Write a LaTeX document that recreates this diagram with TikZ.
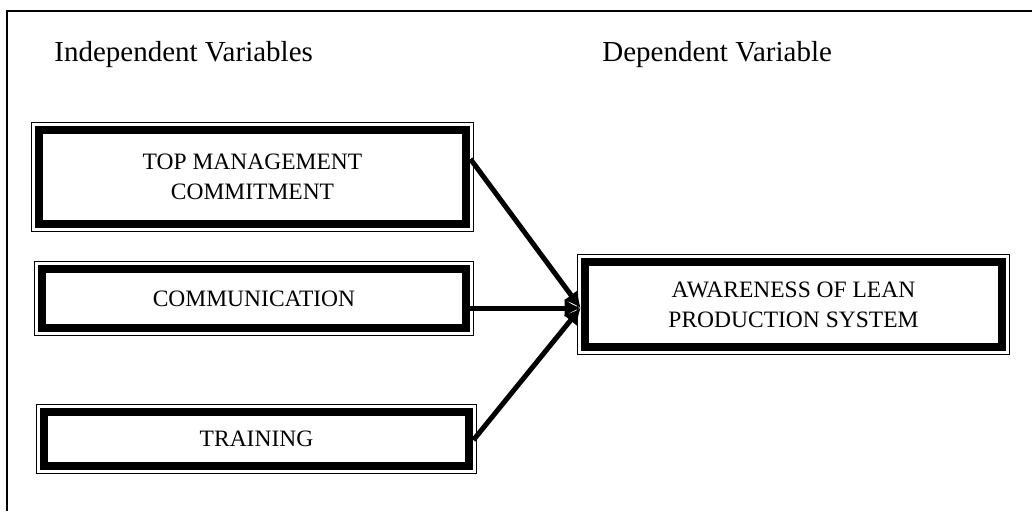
\documentclass[tikz,border=0pt]{standalone}
\usepackage{fontspec}
\setmainfont{Liberation Serif}
\usetikzlibrary{arrows.meta}

\begin{document}
\begin{tikzpicture}[x=0.5pt,y=-0.5pt,
  varbox/.style={fill=white, draw, line width=4.2pt, align=center, inner sep=0pt,
    font=\fontsize{11.75}{15}\selectfont,
    preaction={draw, line width=7.8pt},
    preaction={draw, white, line width=6.6pt}},
  heading/.style={anchor=base west, inner sep=0pt, font=\fontsize{14.5}{17}\selectfont},
  link/.style={line width=2.5pt, -{Latex[length=8pt,width=9pt]}}]

\useasboundingbox (0,0) rectangle (1032,511);
\draw[line width=1pt] (7,511) -- (7,11) -- (1032,11);

\node[heading] (indep) at (54,61) {Independent Variables};
\node[heading] (dep) at (602,61) {Dependent Variable};

\node[varbox, minimum width=213.7pt, minimum height=47.2pt] (tmc) at (252.5,177)
  {TOP MANAGEMENT\\COMMITMENT};
\node[varbox, minimum width=212.2pt, minimum height=29.7pt] (comm) at (254,298.5)
  {COMMUNICATION};
\node[varbox, minimum width=212.7pt, minimum height=27.2pt] (train) at (256.5,439)
  {TRAINING};
\node[varbox, minimum width=208.7pt, minimum height=42.7pt] (aware) at (793.5,304.5)
  {AWARENESS OF LEAN\\PRODUCTION SYSTEM};

\draw[link] ([yshift=9pt]tmc.east) -- ([yshift=-1.75pt]aware.west);
\draw[link] ([yshift=-4.75pt]comm.east) -- ([yshift=-1.75pt]aware.west);
\draw[link] ([yshift=-0.5pt]train.east) -- ([yshift=-1.75pt]aware.west);
\end{tikzpicture}
\end{document}
